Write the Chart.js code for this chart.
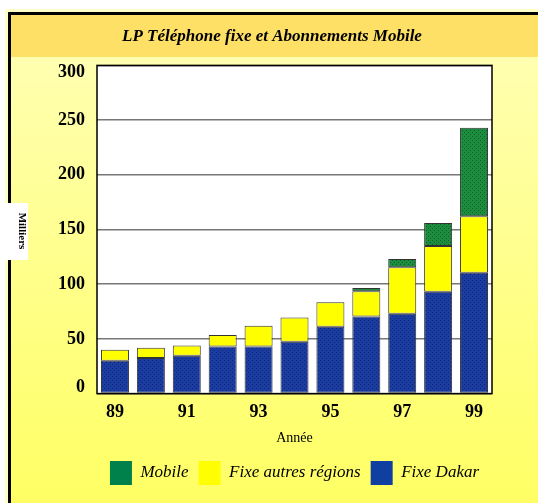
<!DOCTYPE html>
<html><head><meta charset="utf-8">
<script src="https://cdn.jsdelivr.net/npm/chart.js@4"></script>
<style>html,body{margin:0;padding:0;background:#fff;overflow:hidden}</style>
</head><body>
<canvas id="c" width="538" height="503" style="display:block;width:538px;height:503px"></canvas>
<script>
const years = ['89','90','91','92','93','94','95','96','97','98','99'];
const fixeDakar = [30, 32.5, 34.5, 43, 43, 47.5, 61, 70.5, 73, 93, 110.5];
const fixeAutres = [10, 9.5, 9.5, 10.5, 19, 22, 22.5, 23, 42.5, 42, 51.5];
const mobile = [null, null, null, null, null, null, null, 3, 7.5, 21, 81];
const yTicks = [0, 50, 100, 150, 200, 250, 300];
const seriesNames = ['Fixe Dakar', 'Fixe autres régions', 'Mobile'];
const titleText = 'LP Téléphone fixe et Abonnements Mobile';
const xTitle = 'Année';
const yTitle = 'Milliers';

const SERIF = "'Liberation Serif', 'Times New Roman', serif";
const legendColors = ['#0F3FA0', '#FFFF00', '#00804A'];

function pattern(base, dot) {
  const c = document.createElement('canvas');
  c.width = 4; c.height = 4;
  const g = c.getContext('2d');
  g.fillStyle = base; g.fillRect(0, 0, 4, 4);
  g.fillStyle = dot; g.fillRect(0, 0, 1, 1); g.fillRect(2, 2, 1, 1);
  return g.createPattern(c, 'repeat');
}
const blueFill = pattern('#1B3CA0', '#0E2470');
const greenFill = pattern('#1C8C3E', '#0E5E26');

const bgPlugin = {
  id: 'bg',
  beforeDraw(chart) {
    const ctx = chart.ctx, W = chart.width, H = chart.height, a = chart.chartArea;
    ctx.save();
    ctx.fillStyle = '#ffffff'; ctx.fillRect(0, 0, W, H);
    ctx.fillStyle = '#FFFFC8'; ctx.fillRect(5, 9, W - 5, H - 9);
    const gr = ctx.createLinearGradient(0, 57, 0, H);
    gr.addColorStop(0, '#FFFFB0'); gr.addColorStop(1, '#FFFF64');
    ctx.fillStyle = gr; ctx.fillRect(11, 57, W - 11, H - 57);
    ctx.fillStyle = '#FFE066'; ctx.fillRect(11, 15, W - 11, 42);
    ctx.fillStyle = '#000';
    ctx.fillRect(8, 12, W - 8, 3);
    ctx.fillRect(8, 12, 3, H - 12);
    ctx.fillStyle = '#ffffff'; ctx.fillRect(3, 203, 25, 57);
    ctx.translate(22, 231); ctx.rotate(Math.PI / 2);
    ctx.fillStyle = '#000'; ctx.font = 'bold 11px ' + SERIF;
    ctx.textAlign = 'center'; ctx.textBaseline = 'middle';
    ctx.fillText(yTitle, 0, 0);
    ctx.restore();
    ctx.save();
    ctx.fillStyle = '#ffffff';
    ctx.fillRect(a.left, a.top, a.right - a.left, a.bottom - a.top);
    ctx.restore();
    // keep the end labels of the value axis inside the plot height
    const ys = chart.scales.y;
    if (ys && ys.getLabelItems) {
      const items = ys.getLabelItems();
      if (!items._shifted && items.length) {
        items._shifted = true;
        const first = items[0], last = items[items.length - 1];
        if (first.options && first.options.translation) first.options.translation[1] -= 6;
        if (last.options && last.options.translation) last.options.translation[1] += 7;
      }
    }
  },
  afterDraw(chart) {
    const ctx = chart.ctx, a = chart.chartArea;
    ctx.save();
    ctx.strokeStyle = '#000'; ctx.lineWidth = 1.5;
    ctx.strokeRect(a.left, a.top, a.right - a.left, a.bottom - a.top);
    ctx.restore();
  }
};

new Chart(document.getElementById('c'), {
  type: 'bar',
  data: {
    labels: years,
    datasets: [
      { label: seriesNames[0], data: fixeDakar, backgroundColor: blueFill },
      { label: seriesNames[1], data: fixeAutres, backgroundColor: '#FFFF00' },
      { label: seriesNames[2], data: mobile, backgroundColor: greenFill }
    ]
  },
  options: {
    responsive: false,
    animation: false,
    devicePixelRatio: 1,
    layout: { padding: { left: 6, right: 0, top: 0, bottom: 8 } },
    datasets: { bar: { categoryPercentage: 1, barPercentage: 0.78, borderColor: '#333', borderWidth: 1, borderSkipped: false } },
    scales: {
      x: {
        stacked: true,
        grid: { display: false },
        border: { display: false },
        ticks: {
          autoSkip: false, maxRotation: 0, padding: 0, color: '#000',
          font: { family: SERIF, size: 18, weight: 'bold' },
          callback: function (v, i) { return i % 2 === 0 ? this.getLabelForValue(v) : ''; }
        },
        title: { display: true, text: xTitle, color: '#000', font: { family: SERIF, size: 14 }, padding: { top: 7, bottom: 4 } }
      },
      y: {
        stacked: true, min: 0, max: 300,
        afterBuildTicks: s => { s.ticks = yTicks.map(v => ({ value: v })); },
        afterFit: s => { s.width = 91; },
        grid: { color: '#777', lineWidth: 1.5, drawTicks: false },
        border: { display: false },
        ticks: { padding: 12, color: '#000', font: { family: SERIF, size: 18, weight: 'bold' } }
      },
      yR: {
        position: 'right', display: true,
        grid: { display: false }, border: { display: false },
        ticks: { display: false },
        afterFit: s => { s.width = 46; }
      }
    },
    plugins: {
      title: {
        display: true, text: titleText, color: '#000',
        font: { family: SERIF, size: 17, weight: 'bold', style: 'italic' },
        padding: { top: 26, bottom: 19 }
      },
      legend: {
        position: 'bottom', fullSize: false, reverse: true,
        labels: {
          boxWidth: 22, boxHeight: 24, padding: 10, color: '#111',
          font: { family: SERIF, size: 17, style: 'italic' },
          generateLabels: chart => chart.data.datasets.map((ds, i) => ({
            text: ds.label, fillStyle: legendColors[i], strokeStyle: legendColors[i],
            lineWidth: 0, hidden: false, datasetIndex: i
          }))
        }
      },
      tooltip: { enabled: false }
    }
  },
  plugins: [bgPlugin]
});
</script>
</body></html>
